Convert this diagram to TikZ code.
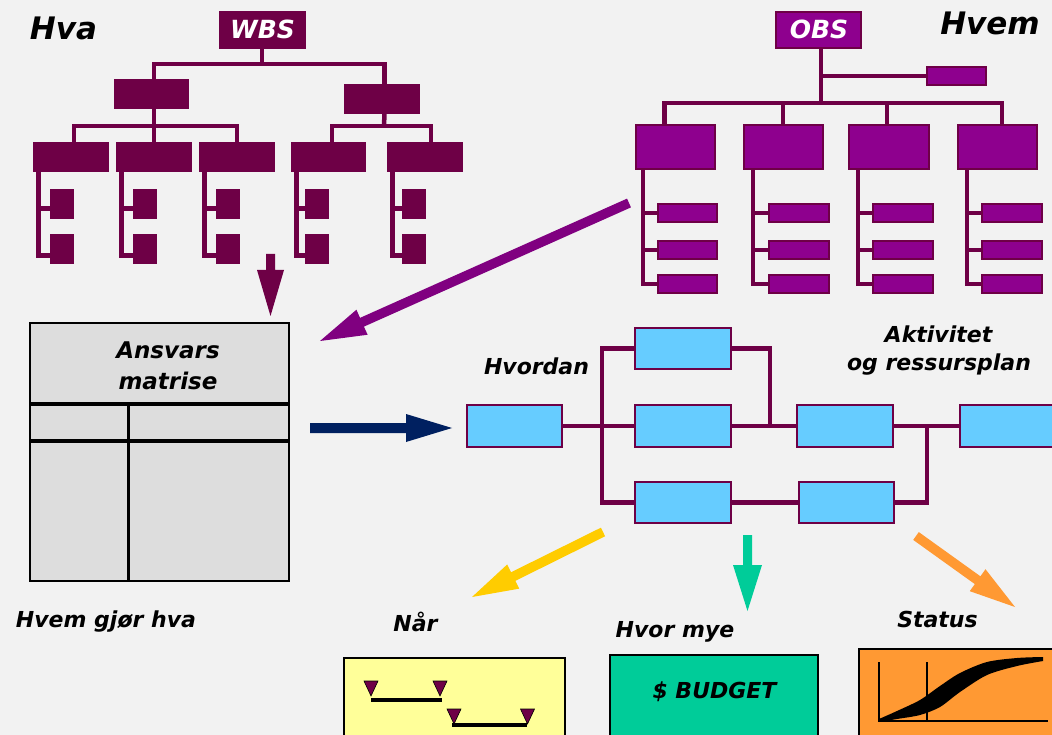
\documentclass[tikz,border=0pt]{standalone}
\usepackage{fontspec}
\setmainfont{DejaVu Sans}
\usetikzlibrary{calc}
\definecolor{mrn}{HTML}{6E0046}
\definecolor{obsfill}{HTML}{8E008E}
\definecolor{parrow}{HTML}{800080}
\definecolor{navytwo}{HTML}{002060}
\definecolor{bgc}{HTML}{F2F2F2}
\definecolor{matfill}{HTML}{DDDDDD}
\definecolor{netblue}{HTML}{66CCFF}
\definecolor{yarrow}{HTML}{FFCC00}
\definecolor{yfill}{HTML}{FFFF99}
\definecolor{grn}{HTML}{00CC99}
\definecolor{orng}{HTML}{FF9933}
\newcommand{\myf}[1]{\fontsize{#1}{#1}\selectfont\bfseries\itshape}
\newcommand{\rbox}[6]{\node[#1, minimum width={#5-(#3)}, minimum height={#6-(#4)}] (#2) at ({((#3)+(#5))/2},{((#4)+(#6))/2}) {};}
% block arrow: colour, from, to, half shaft width, head length, half head width
\newcommand{\barrow}[6]{%
  \coordinate (hb) at ($(#3)!#5!(#2)$);
  \fill[#1] ($(#2)!#4!90:(#3)$) -- ($(hb)!#4!90:(#3)$) -- ($(hb)!#6!90:(#3)$) -- (#3)
     -- ($(hb)!#6!-90:(#3)$) -- ($(hb)!#4!-90:(#3)$) -- ($(#2)!#4!-90:(#3)$) -- cycle;}
\begin{document}
\begin{tikzpicture}[x=1pt,y=-1pt,
  tree/.style={draw=mrn, line width=4.5pt},
  net/.style={draw=mrn, line width=4.5pt},
  wbox/.style={draw=mrn, fill=mrn, line width=0.6pt, inner sep=0pt},
  obox/.style={draw=mrn, fill=obsfill, line width=1.8pt, inner sep=0pt},
  nbox/.style={draw=mrn, fill=netblue, line width=2.2pt, inner sep=0pt},
  bbox/.style={draw=black, line width=2pt, inner sep=0pt},
  lbl/.style={font=\myf{22}, inner sep=0pt, anchor=base},
]
\useasboundingbox (0,0) rectangle (1052,735);
\fill[bgc] (0,0) rectangle (1052,735);

% ---------------- WBS tree ----------------
\rbox{wbox}{wbs}{219}{11}{305}{48}
\node[lbl, font=\myf{25}, text=white] (wbst) at (262.5,39) {WBS};
\rbox{wbox}{w1}{114}{79}{188}{108}
\rbox{wbox}{w2}{344}{84}{419}{113}
\coordinate (wj) at (262,64);
\draw[tree] (wbs.south) -- (wj);
\draw[tree] ([xshift=3pt]w1.north) |- (wj) -| ([xshift=3pt]w2.north);
\foreach \n/\xa/\xb in {11/33/108, 12/116/191, 13/199/274, 21/291/365, 22/387/462} {
  \rbox{wbox}{w\n}{\xa}{142}{\xb}{171}
}
\coordinate (w1j) at (154,126);
\coordinate (w2j) at (384,126);
\draw[tree] ([xshift=3pt]w1.south) -- ([xshift=0.5pt]w12.north);
\draw[tree] ([xshift=3.5pt]w11.north) |- (w1j) -| ([xshift=0.5pt]w13.north);
\draw[tree] ([xshift=3pt]w2.south) -- (w2j);
\draw[tree] ([xshift=4pt]w21.north) |- (w2j) -| ([xshift=6.5pt]w22.north);
\foreach \n/\xa in {11/50, 12/133, 13/216, 21/305, 22/402} {
  \rbox{wbox}{wla\n}{\xa}{189}{\xa+23}{218}
  \rbox{wbox}{wlb\n}{\xa}{234}{\xa+23}{263}
  \draw[tree] ([xshift=6pt]w\n.south west) |- ([yshift=-5pt]wla\n.west);
  \draw[tree] ([xshift=6pt]w\n.south west) |- ([yshift=-7pt]wlb\n.west);
}

% ---------------- OBS tree ----------------
\rbox{obox}{obs}{776}{12}{861}{48}
\node[lbl, font=\myf{25}, text=white] (obst) at (819,39) {OBS};
\rbox{obox}{osd}{927}{67}{986}{85}
\coordinate (oj) at (821,103);
\draw[tree] ([xshift=2.5pt]obs.south) -- (oj);
\draw[tree] (osd.west) -| (oj);
\foreach \n/\xa/\xb in {1/636/715, 2/744/823, 3/849/929, 4/958/1037} {
  \rbox{obox}{o\n}{\xa}{125}{\xb}{169}
}
\draw[tree] ([xshift=-11pt]o1.north) |- (oj) -| ([xshift=4.5pt]o4.north);
\draw[tree] ([xshift=-0.5pt]o2.north) -- ++(0,-22);
\draw[tree] ([xshift=-2pt]o3.north) -- ++(0,-22);
\foreach \n/\off/\xa/\xb in {1/8/658/717, 2/10/769/829, 3/10/873/933, 4/10/982/1042} {
  \rbox{obox}{ola\n}{\xa}{204}{\xb}{222}
  \rbox{obox}{olb\n}{\xa}{241}{\xb}{259}
  \rbox{obox}{olc\n}{\xa}{275}{\xb}{293}
  \draw[tree] ([xshift=\off pt]o\n.south west) |- (olc\n.west);
  \draw[tree] ([xshift=\off pt]o\n.south west) |- (ola\n.west);
  \draw[tree] ([xshift=\off pt]o\n.south west) |- (olb\n.west);
}

% ---------------- labels top ----------------
\node[lbl, font=\myf{31}] (hva) at (63.5,40) {Hva};
\node[lbl, font=\myf{31}] (hvem) at (990,35) {Hvem};

% ---------------- matrix ----------------
\rbox{bbox, fill=matfill}{mat}{30}{323}{289}{581}
\draw[line width=3.5pt] (30,404) -- (289,404);
\draw[line width=3.5pt] (30,441) -- (289,441);
\draw[line width=3pt] (128,404) -- (128,581);
\node[lbl, font=\myf{23}] (mt1) at (168,358) {Ansvars};
\node[lbl, font=\myf{23}] (mt2) at (168,389) {matrise};
\node[lbl] (hgh) at (106,627) {Hvem gjør hva};

% ---------------- arrows into matrix ----------------
\coordinate (wa1) at (270.5,254);
\coordinate (wa2) at (270.5,316);
\barrow{mrn}{wa1}{wa2}{4.5pt}{46pt}{13.5pt}
\coordinate (pa1) at (629,203);
\coordinate (pa2) at (320,341);
\barrow{parrow}{pa1}{pa2}{4.8pt}{46pt}{13.7pt}
\coordinate (na1) at (310,428);
\coordinate (na2) at (452,428);
\barrow{navytwo}{na1}{na2}{5pt}{46pt}{14pt}

% ---------------- network ----------------
\rbox{nbox}{nA}{467}{405}{562}{447}
\rbox{nbox}{nB}{635}{328}{731}{369}
\rbox{nbox}{nC}{635}{405}{731}{447}
\rbox{nbox}{nD}{635}{482}{731}{523}
\rbox{nbox}{nE}{797}{405}{893}{447}
\rbox{nbox}{nF}{799}{482}{894}{523}
\rbox{nbox}{nG}{960}{405}{1058}{447}
\coordinate (j1) at (602,426);
\coordinate (j2) at (770,426);
\coordinate (j3) at (927,426);
\draw[net] (nA.east) -- (nC.west);
\draw[net] (nB.west) -| (j1) |- (nD.west);
\draw[net] (nB.east) -| (j2);
\draw[net] (nC.east) -- (nE.west);
\draw[net] (nE.east) -- (nG.west);
\draw[net] (nF.east) -| (j3);
\draw[net] (nD.east) -- (nF.west);
\node[lbl] (hvordan) at (536.5,374) {Hvordan};
\node[lbl] (akt1) at (938.5,342) {Aktivitet};
\node[lbl] (akt2) at (939,370) {og ressursplan};

% ---------------- output arrows ----------------
\coordinate (ya1) at (603,532);
\coordinate (ya2) at (472,597);
\barrow{yarrow}{ya1}{ya2}{4.8pt}{46pt}{13.5pt}
\coordinate (ga1) at (747.5,535);
\coordinate (ga2) at (747.5,611);
\barrow{grn}{ga1}{ga2}{4.5pt}{46pt}{14.5pt}
\coordinate (oa1) at (916,536);
\coordinate (oa2) at (1015,607);
\barrow{orng}{oa1}{oa2}{4.8pt}{46pt}{13.5pt}

% ---------------- bottom boxes ----------------
\node[lbl] (naar) at (415.5,631) {Når};
\node[lbl] (hvm) at (675,637) {Hvor mye};
\node[lbl] (stat) at (937.5,627) {Status};

\rbox{bbox, fill=yfill}{yb}{344}{658}{565}{745}
\draw[line width=4.5pt] (371,700) -- (442,700);
\draw[line width=4.5pt] (452,725) -- (527,725);
\foreach \cx/\ty in {371/681, 440/681, 454/709, 527.5/709} {
  \filldraw[fill=mrn, draw=black, line width=0.6pt] (\cx-7,\ty) -- (\cx+7,\ty) -- (\cx,\ty+15) -- cycle;
}

\rbox{bbox, fill=grn}{gb}{610}{655}{818}{745}
\node[lbl] (budt) at (714.5,698) {\$ BUDGET};

\rbox{bbox, fill=orng}{ob}{859}{649}{1062}{745}
\draw[line width=2pt] (879,662) -- (879,721) -- (1048,721);
\draw[line width=2pt] (927,662) -- (927,721);
\fill[black] plot[smooth] coordinates {(879,719) (897,711) (920,700) (940,686) (960,673) (987,662) (1017,658) (1043,657)}
  -- plot[smooth] coordinates {(1043,661) (1017,666) (987,675) (960,692) (940,707) (920,715) (897,719) (879,722)} -- cycle;
\end{tikzpicture}
\end{document}
